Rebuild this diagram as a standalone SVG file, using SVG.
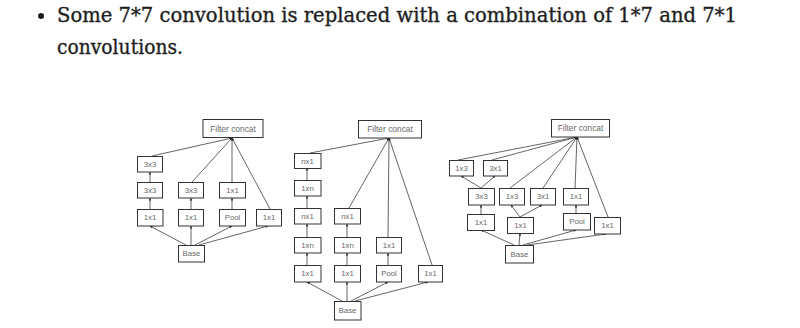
<svg xmlns="http://www.w3.org/2000/svg" width="800" height="328" viewBox="0 0 800 328">
<style>
.bg{fill:#ffffff}
.hd{font-family:"DejaVu Serif","Liberation Serif",serif;font-size:20px;fill:#1e1e1e;stroke:#1e1e1e;stroke-width:0.35}
.box{fill:#ffffff;stroke:#333333;stroke-width:1}
.lb{font-family:"Liberation Sans",Arial,sans-serif;font-size:7.8px;fill:#6a6a6a;text-anchor:middle;dominant-baseline:central}
.fc{font-size:8.4px}
.ln{stroke:#4a4a4a;stroke-width:0.85;fill:none;marker-end:url(#ah)}
</style>
<defs>
<marker id="ah" viewBox="0 0 6 6" refX="6" refY="3" markerWidth="3" markerHeight="3" orient="auto">
<path d="M0,0 L6,3 L0,6 z" fill="#222222"/>
</marker>
</defs>
<rect class="bg" x="0" y="0" width="800" height="328"/>
<g id="heading">
<circle cx="41" cy="16" r="3" fill="#1e1e1e"/>
<text class="hd" x="57" y="22" textLength="680" lengthAdjust="spacingAndGlyphs">Some 7*7 convolution is replaced with a combination of 1*7 and 7*1</text>
<text class="hd" x="57" y="54" textLength="126" lengthAdjust="spacingAndGlyphs">convolutions.</text>
</g>
<g id="connectors">
<!-- diagram 1 -->
<line class="ln" x1="152" y1="156" x2="232" y2="138"/>
<line class="ln" x1="192" y1="182" x2="232" y2="138"/>
<line class="ln" x1="232" y1="182" x2="232" y2="138"/>
<line class="ln" x1="270" y1="209" x2="232" y2="138"/>
<line class="ln" x1="150" y1="182" x2="150" y2="172"/>
<line class="ln" x1="150" y1="209" x2="150" y2="198"/>
<line class="ln" x1="191" y1="209" x2="191" y2="198"/>
<line class="ln" x1="232" y1="209" x2="232" y2="198"/>
<line class="ln" x1="186" y1="245" x2="150" y2="226"/>
<line class="ln" x1="191" y1="245" x2="191" y2="226"/>
<line class="ln" x1="195" y1="245" x2="232" y2="226"/>
<line class="ln" x1="199" y1="245" x2="268" y2="226"/>
<!-- diagram 2 -->
<line class="ln" x1="310" y1="153" x2="389" y2="138"/>
<line class="ln" x1="307" y1="180" x2="307" y2="168"/>
<line class="ln" x1="307" y1="208" x2="307" y2="196"/>
<line class="ln" x1="307" y1="237" x2="307" y2="224"/>
<line class="ln" x1="307" y1="265" x2="307" y2="253"/>
<line class="ln" x1="349" y1="208" x2="389" y2="138"/>
<line class="ln" x1="347" y1="237" x2="347" y2="224"/>
<line class="ln" x1="347" y1="265" x2="347" y2="253"/>
<line class="ln" x1="388" y1="237" x2="389" y2="138"/>
<line class="ln" x1="388" y1="265" x2="388" y2="253"/>
<line class="ln" x1="432" y1="265" x2="389" y2="138"/>
<line class="ln" x1="342" y1="301" x2="307" y2="282"/>
<line class="ln" x1="347" y1="301" x2="347" y2="282"/>
<line class="ln" x1="351" y1="301" x2="388" y2="282"/>
<line class="ln" x1="355" y1="301" x2="428" y2="282"/>
<!-- diagram 3 -->
<line class="ln" x1="458" y1="160" x2="577" y2="137"/>
<line class="ln" x1="492" y1="160" x2="577" y2="137"/>
<line class="ln" x1="510" y1="188" x2="577" y2="137"/>
<line class="ln" x1="543" y1="188" x2="577" y2="137"/>
<line class="ln" x1="575" y1="188" x2="577" y2="137"/>
<line class="ln" x1="608" y1="217" x2="577" y2="137"/>
<line class="ln" x1="481" y1="188" x2="461" y2="176"/>
<line class="ln" x1="481" y1="188" x2="495" y2="176"/>
<line class="ln" x1="481" y1="214" x2="481" y2="205"/>
<line class="ln" x1="520" y1="217" x2="511" y2="205"/>
<line class="ln" x1="520" y1="217" x2="542" y2="205"/>
<line class="ln" x1="576" y1="213" x2="576" y2="205"/>
<line class="ln" x1="514" y1="245" x2="481" y2="230"/>
<line class="ln" x1="519" y1="245" x2="520" y2="233"/>
<line class="ln" x1="523" y1="245" x2="576" y2="230"/>
<line class="ln" x1="527" y1="245" x2="606" y2="234"/>
</g>
<!-- diagram 1 nodes -->
<g id="d1-concat"><rect class="box" x="203" y="119.5" width="60" height="18"/><text class="lb fc" x="233" y="128.5">Filter concat</text></g>
<g id="d1-3x3a"><rect class="box" x="137.5" y="156.5" width="25" height="15.5"/><text class="lb" x="150" y="164">3x3</text></g>
<g id="d1-3x3b"><rect class="box" x="137.5" y="182.5" width="25" height="15.5"/><text class="lb" x="150" y="190">3x3</text></g>
<g id="d1-3x3c"><rect class="box" x="178.5" y="182.5" width="25" height="15.5"/><text class="lb" x="191" y="190">3x3</text></g>
<g id="d1-1x1c"><rect class="box" x="219.5" y="182.5" width="26" height="15.5"/><text class="lb" x="232.5" y="190">1x1</text></g>
<g id="d1-1x1a"><rect class="box" x="137.5" y="209.5" width="25.5" height="16.5"/><text class="lb" x="150" y="217.5">1x1</text></g>
<g id="d1-1x1b"><rect class="box" x="178.5" y="209.5" width="25" height="16.5"/><text class="lb" x="191" y="217.5">1x1</text></g>
<g id="d1-pool"><rect class="box" x="219.5" y="209.5" width="26" height="16.5"/><text class="lb" x="232.5" y="217.5">Pool</text></g>
<g id="d1-1x1d"><rect class="box" x="256.5" y="209.5" width="25" height="16.5"/><text class="lb" x="269" y="217.5">1x1</text></g>
<g id="d1-base"><rect class="box" x="178.5" y="245.5" width="26" height="16.5"/><text class="lb" x="191.5" y="253.5">Base</text></g>
<!-- diagram 2 nodes -->
<g id="d2-concat"><rect class="box" x="358.5" y="120.5" width="63" height="17.5"/><text class="lb fc" x="390" y="129">Filter concat</text></g>
<g id="d2-nx1a"><rect class="box" x="294.5" y="153.5" width="26.5" height="15"/><text class="lb" x="307.5" y="161">nx1</text></g>
<g id="d2-1xna"><rect class="box" x="294.5" y="180.5" width="26.5" height="15.5"/><text class="lb" x="307.5" y="188">1xn</text></g>
<g id="d2-nx1b"><rect class="box" x="294.5" y="208.5" width="26.5" height="15.5"/><text class="lb" x="307.5" y="216">nx1</text></g>
<g id="d2-1xnb"><rect class="box" x="294.5" y="237.5" width="26.5" height="15.5"/><text class="lb" x="307.5" y="245">1xn</text></g>
<g id="d2-1x1a"><rect class="box" x="294.5" y="265.5" width="26.5" height="16.5"/><text class="lb" x="307.5" y="273.5">1x1</text></g>
<g id="d2-nx1c"><rect class="box" x="334.5" y="208.5" width="26" height="15.5"/><text class="lb" x="347.5" y="216">nx1</text></g>
<g id="d2-1xnc"><rect class="box" x="334.5" y="237.5" width="26" height="15.5"/><text class="lb" x="347.5" y="245">1xn</text></g>
<g id="d2-1x1b"><rect class="box" x="334.5" y="265.5" width="26" height="16.5"/><text class="lb" x="347.5" y="273.5">1x1</text></g>
<g id="d2-1x1c"><rect class="box" x="376.5" y="237.5" width="25" height="15.5"/><text class="lb" x="389" y="245">1x1</text></g>
<g id="d2-pool"><rect class="box" x="376.5" y="265.5" width="25" height="16.5"/><text class="lb" x="389" y="273.5">Pool</text></g>
<g id="d2-1x1d"><rect class="box" x="418.5" y="265.5" width="24" height="16.5"/><text class="lb" x="430.5" y="273.5">1x1</text></g>
<g id="d2-base"><rect class="box" x="334.5" y="301.5" width="26.5" height="18.5"/><text class="lb" x="347.5" y="310.5">Base</text></g>
<!-- diagram 3 nodes -->
<g id="d3-concat"><rect class="box" x="551.5" y="119.5" width="58" height="17.5"/><text class="lb fc" x="580.5" y="128">Filter concat</text></g>
<g id="d3-1x3a"><rect class="box" x="449.5" y="160.5" width="24" height="15.5"/><text class="lb" x="461.5" y="168">1x3</text></g>
<g id="d3-3x1a"><rect class="box" x="483.5" y="160.5" width="24" height="15.5"/><text class="lb" x="495.5" y="168">3x1</text></g>
<g id="d3-3x3"><rect class="box" x="468.5" y="188.5" width="26" height="16.5"/><text class="lb" x="481.5" y="196.5">3x3</text></g>
<g id="d3-1x3b"><rect class="box" x="499.5" y="188.5" width="25" height="16.5"/><text class="lb" x="512" y="196.5">1x3</text></g>
<g id="d3-3x1b"><rect class="box" x="530.5" y="188.5" width="25" height="16.5"/><text class="lb" x="543" y="196.5">3x1</text></g>
<g id="d3-1x1r2"><rect class="box" x="563.5" y="188.5" width="25" height="16.5"/><text class="lb" x="576" y="196.5">1x1</text></g>
<g id="d3-1x1a"><rect class="box" x="467.5" y="214.5" width="27" height="16"/><text class="lb" x="481" y="222">1x1</text></g>
<g id="d3-1x1b"><rect class="box" x="507.5" y="217.5" width="26" height="16"/><text class="lb" x="520.5" y="225">1x1</text></g>
<g id="d3-pool"><rect class="box" x="563.5" y="213.5" width="27" height="16.5"/><text class="lb" x="577" y="221.5">Pool</text></g>
<g id="d3-1x1c"><rect class="box" x="594.5" y="217.5" width="26" height="16.5"/><text class="lb" x="607.5" y="225.5">1x1</text></g>
<g id="d3-base"><rect class="box" x="505.5" y="245.5" width="28" height="17.5"/><text class="lb" x="519.5" y="254">Base</text></g>
</svg>
